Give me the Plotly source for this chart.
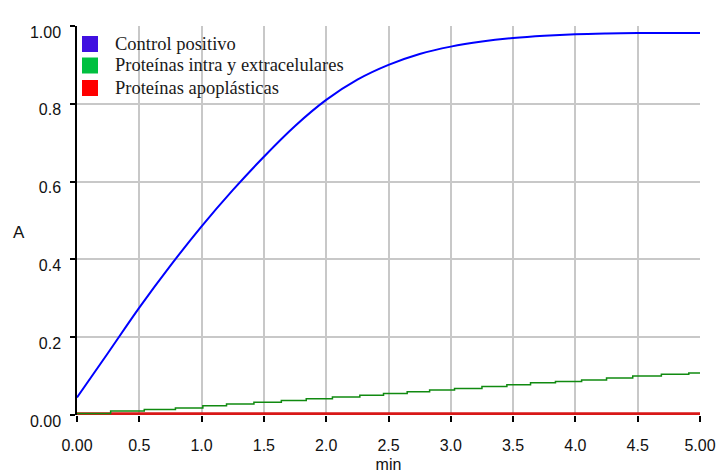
import plotly.graph_objects as go

# Absorbance time courses (A vs. min)
t_control = [0.00, 0.25, 0.50, 0.75, 1.00, 1.25, 1.50, 1.75, 2.00, 2.25, 2.50,
             2.75, 3.00, 3.25, 3.50, 3.75, 4.00, 4.25, 4.50, 4.75, 5.00]
a_control = [0.045, 0.160, 0.276, 0.384, 0.485, 0.578, 0.664, 0.743, 0.810, 0.862, 0.900,
             0.928, 0.947, 0.960, 0.969, 0.975, 0.979, 0.981, 0.982, 0.982, 0.982]

# Stepwise reading of the intra/extracellular protein series
t_intra = [0.00, 0.27, 0.54, 0.79, 1.01, 1.20, 1.42, 1.64, 1.84, 2.05, 2.27, 2.46,
           2.65, 2.83, 3.03, 3.25, 3.45, 3.64, 3.84, 4.05, 4.25, 4.46, 4.69, 4.91, 5.00]
a_intra = [0.004, 0.010, 0.014, 0.018, 0.024, 0.028, 0.033, 0.037, 0.042, 0.046, 0.051, 0.055,
           0.060, 0.064, 0.068, 0.073, 0.078, 0.083, 0.086, 0.090, 0.095, 0.100, 0.105, 0.108, 0.108]

t_apo = [0.00, 5.00]
a_apo = [0.003, 0.003]

series_names = ["Control positivo", "Proteínas intra y extracelulares", "Proteínas apoplásticas"]
legend_colors = ["#4010E0", "#00C040", "#FF0000"]

x_ticks = [0.0, 0.5, 1.0, 1.5, 2.0, 2.5, 3.0, 3.5, 4.0, 4.5, 5.0]
x_ticktext = ["0.00", "0.5", "1.0", "1.5", "2.0", "2.5", "3.0", "3.5", "4.0", "4.5", "5.00"]
y_ticks = [0.0, 0.2, 0.4, 0.6, 0.8, 1.0]
y_ticktext = ["0.00", "0.2", "0.4", "0.6", "0.8", "1.00"]

W, H = 717, 474
ML, MR, MT, MB = 77, 17, 26, 59
PW, PH = W - ML - MR, H - MT - MB


def px_x(px):
    return (px - ML) / PW


def px_y(py):
    return 1 - (py - MT) / PH


fig = go.Figure()
fig.add_trace(go.Scatter(x=t_apo, y=a_apo, mode="lines",
                         line=dict(color="#D81818", width=3), name=series_names[2]))
fig.add_trace(go.Scatter(x=t_intra, y=a_intra, mode="lines", line_shape="hv",
                         line=dict(color="#108A10", width=1.5), name=series_names[1]))
fig.add_trace(go.Scatter(x=t_control, y=a_control, mode="lines", line_shape="spline",
                         line=dict(color="#0000FF", width=2), name=series_names[0]))

# Legend drawn as colour squares with serif labels
shapes = []
annotations = []
row_y = [44, 65.5, 88]
for name, col, ry in zip(series_names, legend_colors, row_y):
    shapes.append(dict(type="rect", xref="paper", yref="paper",
                       x0=px_x(82), x1=px_x(98), y0=px_y(ry + 8), y1=px_y(ry - 8),
                       fillcolor=col, line=dict(width=0)))
    annotations.append(dict(text=name, xref="paper", yref="paper", x=px_x(113), y=px_y(ry),
                            xanchor="left", yanchor="middle", showarrow=False,
                            font=dict(family="Liberation Serif", size=18.5, color="#1a1a1a")))

annotations.append(dict(text="A", xref="paper", yref="paper", x=px_x(19), y=px_y(232),
                        xanchor="center", yanchor="middle", showarrow=False,
                        font=dict(family="Liberation Sans", size=17, color="#111111")))

grid_col = "#C8C8C8"
fig.update_layout(
    width=W, height=H,
    margin=dict(l=ML, r=MR, t=MT, b=MB, autoexpand=False),
    paper_bgcolor="white", plot_bgcolor="white",
    showlegend=False,
    shapes=shapes, annotations=annotations,
    xaxis=dict(range=[0, 5], tickvals=x_ticks, ticktext=x_ticktext,
               showgrid=True, gridcolor=grid_col, gridwidth=1.5,
               showline=False, zeroline=False,
               ticks="outside", ticklen=6, tickwidth=1.5, tickcolor="black",
               ticklabelstandoff=10,
               tickfont=dict(family="Liberation Sans", size=16, color="#111111"),
               title=dict(text="min", standoff=5,
                          font=dict(family="Liberation Sans", size=16, color="#111111"))),
    yaxis=dict(range=[0, 1], tickvals=y_ticks, ticktext=y_ticktext,
               showgrid=True, gridcolor=grid_col, gridwidth=1.5,
               showline=True, linecolor="black", linewidth=1.5, zeroline=False,
               ticks="outside", ticklen=5, tickwidth=1.5, tickcolor="black",
               ticklabelstandoff=6, ticklabelshift=6,
               tickfont=dict(family="Liberation Sans", size=16, color="#111111")),
)

fig.write_html("out.html")
